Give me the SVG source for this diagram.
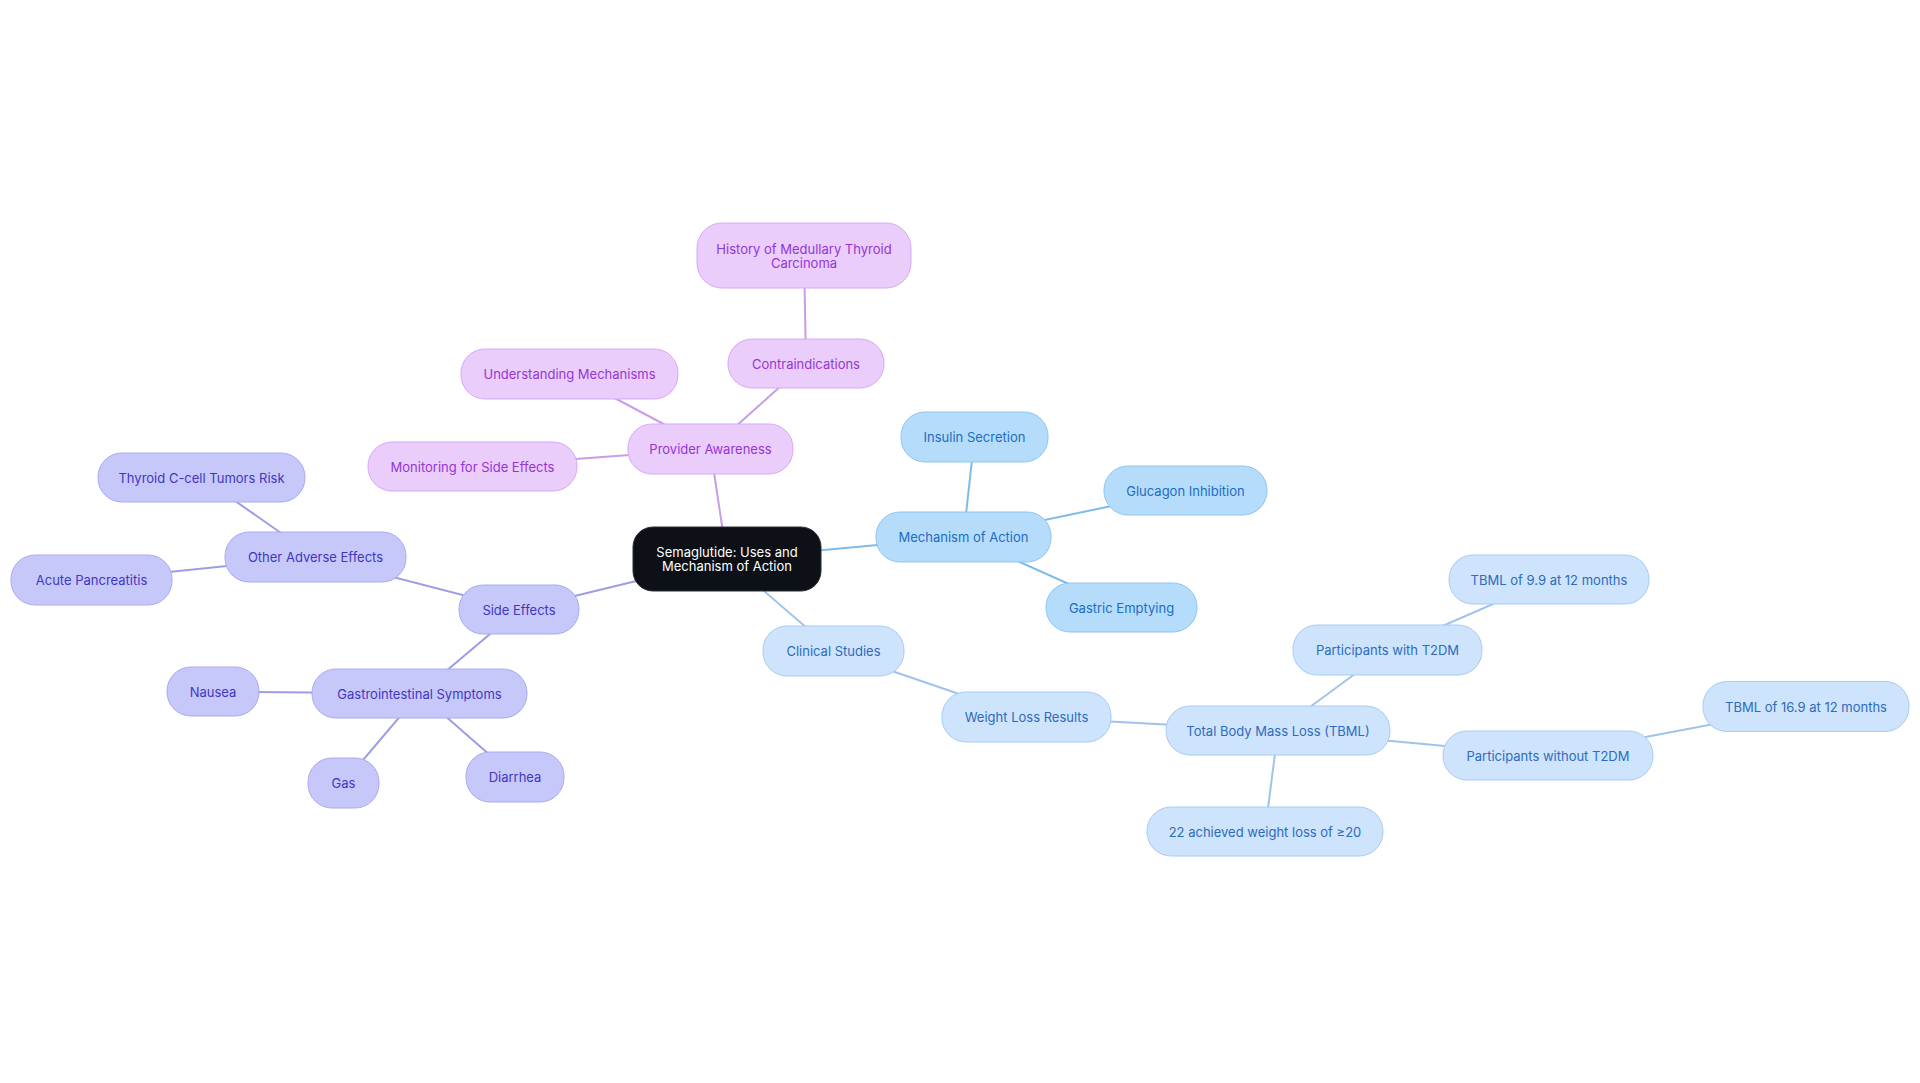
<svg xmlns="http://www.w3.org/2000/svg" width="1920" height="1083" viewBox="0 0 1920 1083">
<style>
  text { font-family: Inter, "Noto Sans", "Liberation Sans", sans-serif; font-size: 13px; text-anchor: middle; dominant-baseline: central; }
  .n rect { stroke-width: 1; }
  .pu rect { fill: #EACDFB; stroke: #D6A9F4; }
  .pu text { fill: #9535D6; }
  .in rect { fill: #C7C8FA; stroke: #A9AAF0; }
  .in text { fill: #4137C2; }
  .bl rect { fill: #B5DDFB; stroke: #8DC5F1; }
  .bl text { fill: #1D6CC4; }
  .lb rect { fill: #CDE4FC; stroke: #A7CBF1; }
  .lb text { fill: #2E6BBC; }
  .ce rect { fill: #0D1117; stroke: #2A2F36; }
  .ce text { fill: #FFFFFF; }
  #connectors line { stroke-width: 2; fill: none; }
  .cpu { stroke: #C89DEA; }
  .cin { stroke: #9C9DE6; }
  .cbl { stroke: #7FBBE9; }
  .clb { stroke: #A0C3EC; }
</style>
<rect width="1920" height="1083" fill="#FFFFFF"/>
<g id="connectors">
  <line class="cpu" x1="727" y1="559" x2="710.5" y2="449"/>
  <line class="cpu" x1="710.5" y1="449" x2="806" y2="363.5"/>
  <line class="cpu" x1="806" y1="363.5" x2="804" y2="255.5"/>
  <line class="cpu" x1="710.5" y1="449" x2="569.5" y2="374"/>
  <line class="cpu" x1="710.5" y1="449" x2="472.5" y2="466.5"/>
  <line class="cin" x1="727" y1="559" x2="519" y2="609.5"/>
  <line class="cin" x1="519" y1="609.5" x2="315.5" y2="557"/>
  <line class="cin" x1="315.5" y1="557" x2="201.5" y2="477.5"/>
  <line class="cin" x1="315.5" y1="557" x2="91.5" y2="580"/>
  <line class="cin" x1="519" y1="609.5" x2="419.5" y2="693.5"/>
  <line class="cin" x1="419.5" y1="693.5" x2="213" y2="691.5"/>
  <line class="cin" x1="419.5" y1="693.5" x2="343.5" y2="783"/>
  <line class="cin" x1="419.5" y1="693.5" x2="515" y2="777"/>
  <line class="cbl" x1="727" y1="559" x2="963.5" y2="537"/>
  <line class="cbl" x1="963.5" y1="537" x2="974.5" y2="437"/>
  <line class="cbl" x1="963.5" y1="537" x2="1185.5" y2="490.5"/>
  <line class="cbl" x1="963.5" y1="537" x2="1121.5" y2="607.5"/>
  <line class="clb" x1="727" y1="559" x2="833.5" y2="651"/>
  <line class="clb" x1="833.5" y1="651" x2="1026.5" y2="717"/>
  <line class="clb" x1="1026.5" y1="717" x2="1278" y2="730.5"/>
  <line class="clb" x1="1278" y1="730.5" x2="1387.5" y2="650"/>
  <line class="clb" x1="1387.5" y1="650" x2="1549" y2="579.5"/>
  <line class="clb" x1="1278" y1="730.5" x2="1548" y2="755.5"/>
  <line class="clb" x1="1548" y1="755.5" x2="1806" y2="706.5"/>
  <line class="clb" x1="1278" y1="730.5" x2="1265" y2="831.5"/>
</g>
<g id="center" class="n ce"><rect x="633" y="527" width="188" height="64" rx="20"/><text x="727" y="552">Semaglutide: Uses and</text><text x="727" y="566">Mechanism of Action</text></g>
<g id="provider" class="n pu"><rect x="628" y="424" width="165" height="50" rx="24"/><text x="710.5" y="449">Provider Awareness</text></g>
<g id="contraindications" class="n pu"><rect x="728" y="339" width="156" height="49" rx="24"/><text x="806" y="363.5">Contraindications</text></g>
<g id="history" class="n pu"><rect x="697" y="223" width="214" height="65" rx="25"/><text x="804" y="248.5">History of Medullary Thyroid</text><text x="804" y="262.5">Carcinoma</text></g>
<g id="understanding" class="n pu"><rect x="461" y="349" width="217" height="50" rx="24"/><text x="569.5" y="374">Understanding Mechanisms</text></g>
<g id="monitoring" class="n pu"><rect x="368" y="442" width="209" height="49" rx="24"/><text x="472.5" y="466.5">Monitoring for Side Effects</text></g>
<g id="side-effects" class="n in"><rect x="459" y="585" width="120" height="49" rx="24"/><text x="519" y="609.5">Side Effects</text></g>
<g id="other-adverse" class="n in"><rect x="225" y="532" width="181" height="50" rx="24"/><text x="315.5" y="557">Other Adverse Effects</text></g>
<g id="thyroid" class="n in"><rect x="98" y="453" width="207" height="49" rx="24"/><text x="201.5" y="477.5">Thyroid C-cell Tumors Risk</text></g>
<g id="pancreatitis" class="n in"><rect x="11" y="555" width="161" height="50" rx="24"/><text x="91.5" y="580">Acute Pancreatitis</text></g>
<g id="gi" class="n in"><rect x="312" y="669" width="215" height="49" rx="24"/><text x="419.5" y="693.5">Gastrointestinal Symptoms</text></g>
<g id="nausea" class="n in"><rect x="167" y="667" width="92" height="49" rx="24"/><text x="213" y="691.5">Nausea</text></g>
<g id="gas" class="n in"><rect x="308" y="758" width="71" height="50" rx="24"/><text x="343.5" y="783">Gas</text></g>
<g id="diarrhea" class="n in"><rect x="466" y="752" width="98" height="50" rx="24"/><text x="515" y="777">Diarrhea</text></g>
<g id="mechanism" class="n bl"><rect x="876" y="512" width="175" height="50" rx="24"/><text x="963.5" y="537">Mechanism of Action</text></g>
<g id="insulin" class="n bl"><rect x="901" y="412" width="147" height="50" rx="24"/><text x="974.5" y="437">Insulin Secretion</text></g>
<g id="glucagon" class="n bl"><rect x="1104" y="466" width="163" height="49" rx="24"/><text x="1185.5" y="490.5">Glucagon Inhibition</text></g>
<g id="gastric" class="n bl"><rect x="1046" y="583" width="151" height="49" rx="24"/><text x="1121.5" y="607.5">Gastric Emptying</text></g>
<g id="clinical" class="n lb"><rect x="763" y="626" width="141" height="50" rx="24"/><text x="833.5" y="651">Clinical Studies</text></g>
<g id="weight" class="n lb"><rect x="942" y="692" width="169" height="50" rx="24"/><text x="1026.5" y="717">Weight Loss Results</text></g>
<g id="tbml" class="n lb"><rect x="1166" y="706" width="224" height="49" rx="24"/><text x="1278" y="730.5">Total Body Mass Loss (TBML)</text></g>
<g id="with-t2dm" class="n lb"><rect x="1293" y="625" width="189" height="50" rx="24"/><text x="1387.5" y="650">Participants with T2DM</text></g>
<g id="tbml-99" class="n lb"><rect x="1449" y="555" width="200" height="49" rx="24"/><text x="1549" y="579.5">TBML of 9.9 at 12 months</text></g>
<g id="without-t2dm" class="n lb"><rect x="1443" y="731" width="210" height="49" rx="24"/><text x="1548" y="755.5">Participants without T2DM</text></g>
<g id="tbml-169" class="n lb"><rect x="1703" y="681.5" width="206" height="50" rx="24"/><text x="1806" y="706.5">TBML of 16.9 at 12 months</text></g>
<g id="achieved" class="n lb"><rect x="1147" y="807" width="236" height="49" rx="24"/><text x="1265" y="831.5">22 achieved weight loss of ≥20</text></g>
</svg>
